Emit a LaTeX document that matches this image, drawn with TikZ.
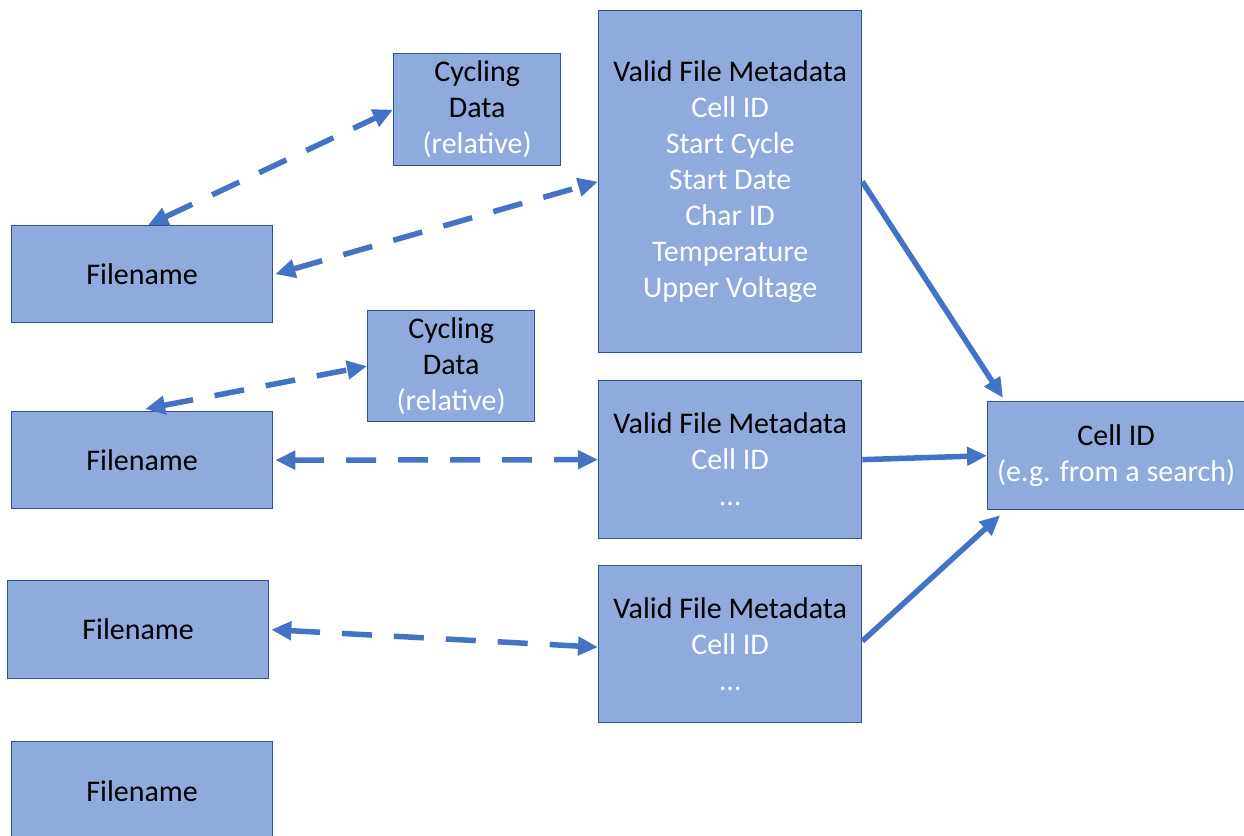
\documentclass[tikz,border=0pt]{standalone}
\usepackage{fontspec}
\setmainfont{Carlito}
\usetikzlibrary{arrows.meta,calc}
\definecolor{boxfill}{HTML}{8FAADC}
\definecolor{boxedge}{HTML}{2F528F}
\definecolor{link}{HTML}{4472C4}
\begin{document}
\begin{tikzpicture}[x=1pt,y=-1pt,
  box/.style={draw=boxedge, fill=boxfill, line width=1.3pt, inner sep=0pt,
    align=center, text=white, anchor=north west,
    font=\fontsize{30}{36}\selectfont},
  tip/.style={-{Triangle[length=20pt,width=18pt]}},
  dasharrow/.style={draw=link, line width=5.5pt,
    {Triangle[length=20pt,width=18pt]}-{Triangle[length=20pt,width=18pt]},
    dash pattern=on 30pt off 22pt},
  solidarrow/.style={draw=link, line width=5.5pt, tip}]
\path[use as bounding box, clip] (0,0) rectangle (1244,835);

% file name boxes
\node[box, minimum width=261pt, minimum height=97pt] (f1) at (11,225) {\textcolor{black}{Filename}};
\node[box, minimum width=261pt, minimum height=97pt] (f2) at (11,411) {\textcolor{black}{Filename}};
\node[box, minimum width=261pt, minimum height=98pt] (f3) at (7,580) {\textcolor{black}{Filename}};
\node[box, minimum width=261pt, minimum height=100pt] (f4) at (11,741) {\textcolor{black}{Filename}};

% cycling data boxes
\node[box, minimum width=167pt, minimum height=112pt] (c1) at (393,53)
  {\textcolor{black}{Cycling}\\\textcolor{black}{Data}\\(relative)};
\node[box, minimum width=167pt, minimum height=111pt] (c2) at (367,310)
  {\textcolor{black}{Cycling}\\\textcolor{black}{Data}\\(relative)};

% metadata boxes
\node[box, minimum width=263pt, minimum height=342pt] (v1) at (598,10)
  {\textcolor{black}{Valid File Metadata}\\Cell ID\\Start Cycle\\Start Date\\Char ID\\Temperature\\Upper Voltage};
\node[box, minimum width=263pt, minimum height=158pt] (v2) at (598,380)
  {\textcolor{black}{Valid File Metadata}\\Cell ID\\\dots};
\node[box, minimum width=263pt, minimum height=157pt] (v3) at (598,565)
  {\textcolor{black}{Valid File Metadata}\\Cell ID\\\dots};

% search result
\node[box, minimum width=257pt, minimum height=108pt] (cell) at (987,401)
  {\textcolor{black}{Cell ID}\\(e.g. from a search)};

% links between file names and their data
\draw[dasharrow] ($(f1.north)+(6,0)$) -- (c1.west);
\draw[dasharrow] ($(f1.east)+(2,0)$) -- (v1.west);
\draw[dasharrow] ($(f2.north)+(3,-2)$) -- (c2.west);
\draw[dasharrow] ($(f2.east)+(2,0)$) -- (v2.west);
\draw[dasharrow] ($(f3.east)+(2,0)$) -- ($(v3.west)+(0,3)$);

% metadata resolved to a cell
\draw[solidarrow] (v1.east) -- ($(cell.north west)+(16,-3)$);
\draw[solidarrow] (v2.east) -- (cell.west);
\draw[solidarrow] ($(v3.east)+(0,-3)$) -- ($(cell.south west)+(13,5)$);
\end{tikzpicture}
\end{document}
